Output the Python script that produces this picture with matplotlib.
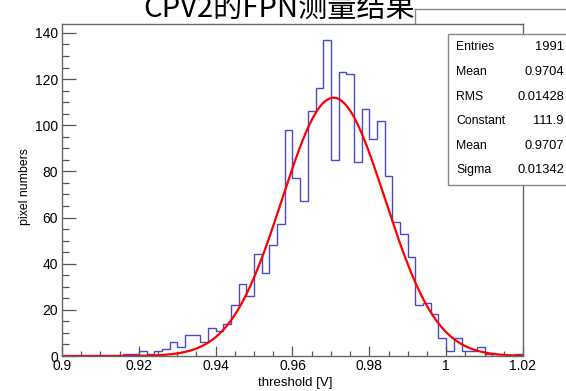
import numpy as np
import matplotlib.pyplot as plt
from matplotlib.patches import Rectangle
from matplotlib.lines import Line2D

plt.rcParams['font.family'] = ['Liberation Sans', 'Noto Sans CJK SC']

# histogram: 60 bins from 0.9 to 1.02
hist_range = (0.9, 1.02)
n_bins = 60
counts = [0, 0, 0, 0, 0, 0, 0, 0,
          1, 1, 2, 1, 2, 3, 6, 4, 9, 9, 6, 12, 11, 14, 22, 31, 26, 44,
          36, 48, 57, 98, 77, 67, 106, 116, 137, 85, 123, 122, 84, 107, 94, 102, 78,
          58, 53, 43, 22, 23, 18, 8, 2, 8, 2, 2, 4, 1, 0, 0, 0, 1]

# gaus fit result
fit_constant = 111.9
fit_mean = 0.9707
fit_sigma = 0.01342

stat_names = ['Entries', 'Mean', 'RMS', 'Constant', 'Mean', 'Sigma']
stat_values = ['1991', '0.9704', '0.01428', '111.9', '0.9707', '0.01342']

W, H = 566, 391
fig = plt.figure(figsize=(W / 100, H / 100), dpi=100)
ax = fig.add_axes([62 / W, 1 - 356 / H, (523 - 62) / W, (356 - 24) / H])

edges = np.linspace(hist_range[0], hist_range[1], n_bins + 1)
ax.stairs(counts, edges, baseline=0, color='#4a4ac8', lw=1.0)

xx = np.linspace(hist_range[0], hist_range[1], 400)
yy = fit_constant * np.exp(-0.5 * ((xx - fit_mean) / fit_sigma) ** 2)
ax.plot(xx, yy, color='red', lw=1.6)

ax.set_xlim(hist_range)
ax.set_ylim(0, max(counts) * 1.05)

ax.set_xticks([0.9, 0.92, 0.94, 0.96, 0.98, 1.0, 1.02])
ax.set_xticklabels(['0.9', '0.92', '0.94', '0.96', '0.98', '1', '1.02'])
ax.set_xticks(np.arange(0.9, 1.0201, 0.005), minor=True)
ax.set_yticks(range(0, 141, 20))
ax.set_yticks(range(0, 141, 5), minor=True)

ax.tick_params(axis='x', which='major', direction='in', length=7.2, width=0.9,
               color='#555555', labelsize=10, pad=2.5)
ax.tick_params(axis='x', which='minor', direction='in', length=3.6, width=0.9,
               color='#555555')
ax.tick_params(axis='y', which='major', direction='in', length=9.8, width=0.9,
               color='#555555', labelsize=10, pad=3)
ax.tick_params(axis='y', which='minor', direction='in', length=4.9, width=0.9,
               color='#555555')
for s in ax.spines.values():
    s.set_color('#666666')
    s.set_linewidth(1.0)

fig.text(25 / W, 1 - 187 / H, 'pixel numbers', rotation=90, ha='center',
         va='center', fontsize=8.8)
fig.text(295 / W, 1 - 383 / H, 'threshold [V]', ha='center', va='center',
         fontsize=9.5)

fig.text(279 / W, 1 - 17 / H, 'CPV2的FPN测量结果', ha='center', va='baseline',
         fontsize=21, family=['Noto Sans CJK SC', 'DejaVu Sans'])

# stats box
fig.add_artist(Line2D([415 / W, 1], [1 - 9 / H, 1 - 9 / H], color='#888888', lw=1, zorder=5))
fig.add_artist(Line2D([415 / W, 415 / W], [1 - 9 / H, 1 - 23 / H], color='#888888', lw=1, zorder=5))
fig.add_artist(Rectangle((448 / W, 1 - 185 / H), (575 - 448) / W, (185 - 34) / H,
                         transform=fig.transFigure, facecolor='white',
                         edgecolor='#888888', lw=1, zorder=5))
row_y = [47, 72, 97, 121, 146, 170]
for name, val, y in zip(stat_names, stat_values, row_y):
    fig.text(456 / W, 1 - y / H, name, ha='left', va='center', fontsize=8.8, zorder=6)
    fig.text(564 / W, 1 - y / H, val, ha='right', va='center', fontsize=9.3, zorder=6)

fig.savefig('out.png', dpi=100)
